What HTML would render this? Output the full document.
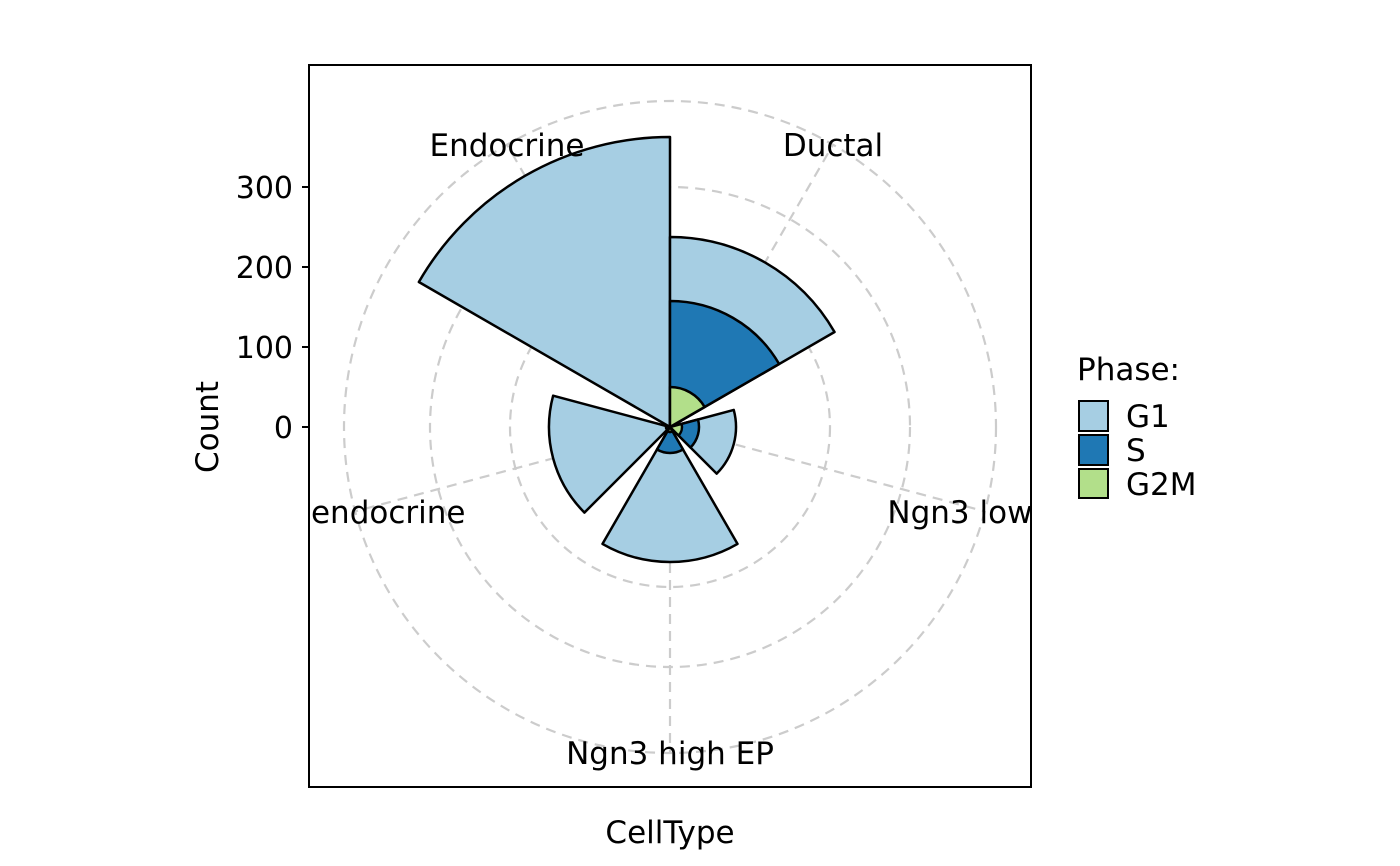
<!DOCTYPE html>
<html><head><meta charset="utf-8"><style>
html,body{margin:0;padding:0;background:#fff;width:1400px;height:866px;overflow:hidden}
svg{display:block}
text{font-family:"DejaVu Sans","Liberation Sans",sans-serif;font-size:31px;fill:#000}
.t{font-size:30px}
</style></head><body>
<svg id="s" width="1400" height="866" xmlns="http://www.w3.org/2000/svg">
<defs><clipPath id="pc"><rect x="309" y="65" width="722" height="722"/></clipPath></defs>
<g id="grid" fill="none" stroke="#cccccc" stroke-width="2.2" stroke-dasharray="10,7"></g>
<g id="bars" stroke="#000" stroke-width="2.5" stroke-linejoin="round"></g>
<g clip-path="url(#pc)">
<text x="507" y="156" text-anchor="middle">Endocrine</text>
<text x="833" y="156" text-anchor="middle">Ductal</text>
<text x="984" y="523" text-anchor="middle">Ngn3 low EP</text>
<text x="358" y="523" text-anchor="middle">Pre-endocrine</text>
<text x="670" y="764" text-anchor="middle">Ngn3 high EP</text>
</g>
<rect x="309" y="65" width="722" height="722" fill="none" stroke="#000" stroke-width="2"/>
<g stroke="#000" stroke-width="2">
<line x1="302" y1="187" x2="309" y2="187"/><line x1="302" y1="267" x2="309" y2="267"/>
<line x1="302" y1="347" x2="309" y2="347"/><line x1="302" y1="427" x2="309" y2="427"/>
</g>
<text class="t" x="293" y="198" text-anchor="end">300</text>
<text class="t" x="293" y="278" text-anchor="end">200</text>
<text class="t" x="293" y="358" text-anchor="end">100</text>
<text class="t" x="293" y="438" text-anchor="end">0</text>
<text transform="translate(218,427) rotate(-90)" text-anchor="middle">Count</text>
<text x="670" y="843" text-anchor="middle">CellType</text>
<text x="1077" y="380">Phase:</text>
<rect x="1079" y="401" width="29" height="30" fill="#A6CEE3" stroke="#000" stroke-width="2"/>
<rect x="1079" y="435" width="29" height="30" fill="#1F78B4" stroke="#000" stroke-width="2"/>
<rect x="1079" y="469" width="29" height="29" fill="#B2DF8A" stroke="#000" stroke-width="2"/>
<text x="1126" y="427">G1</text>
<text x="1126" y="461">S</text>
<text x="1126" y="495">G2M</text>
</svg>
<script>
var cx=670,cy=427,NS="http://www.w3.org/2000/svg";
function pt(r,a){a=a*Math.PI/180;return [cx+r*Math.sin(a),cy-r*Math.cos(a)];}
function sec(r,a0,a1,fill){var p0=pt(r,a0),p1=pt(r,a1);
var e=document.createElementNS(NS,"path");
e.setAttribute("d","M"+cx+","+cy+"L"+p0[0]+","+p0[1]+"A"+r+","+r+" 0 0 1 "+p1[0]+","+p1[1]+"Z");
e.setAttribute("fill",fill);document.getElementById("bars").appendChild(e);}
var g=document.getElementById("grid");
[160,240,326].forEach(function(r){var c=document.createElementNS(NS,"circle");c.setAttribute("cx",cx);c.setAttribute("cy",cy);c.setAttribute("r",r);g.appendChild(c);});
[-30,30,105,180,255].forEach(function(a){var p=pt(326,a);var l=document.createElementNS(NS,"line");l.setAttribute("x1",cx);l.setAttribute("y1",cy);l.setAttribute("x2",p[0]);l.setAttribute("y2",p[1]);g.appendChild(l);});
var L="#A6CEE3",S="#1F78B4",G="#B2DF8A";
sec(290,-60,0,L);sec(190,0,60,L);sec(66,75,135,L);sec(135,150,210,L);sec(121,225,285,L);
sec(126,0,60,S);sec(29,75,135,S);sec(26,150,210,S);sec(4,225,285,S);
sec(40,0,60,G);sec(12,75,135,G);sec(5,150,210,G);
</script>
</body></html>
